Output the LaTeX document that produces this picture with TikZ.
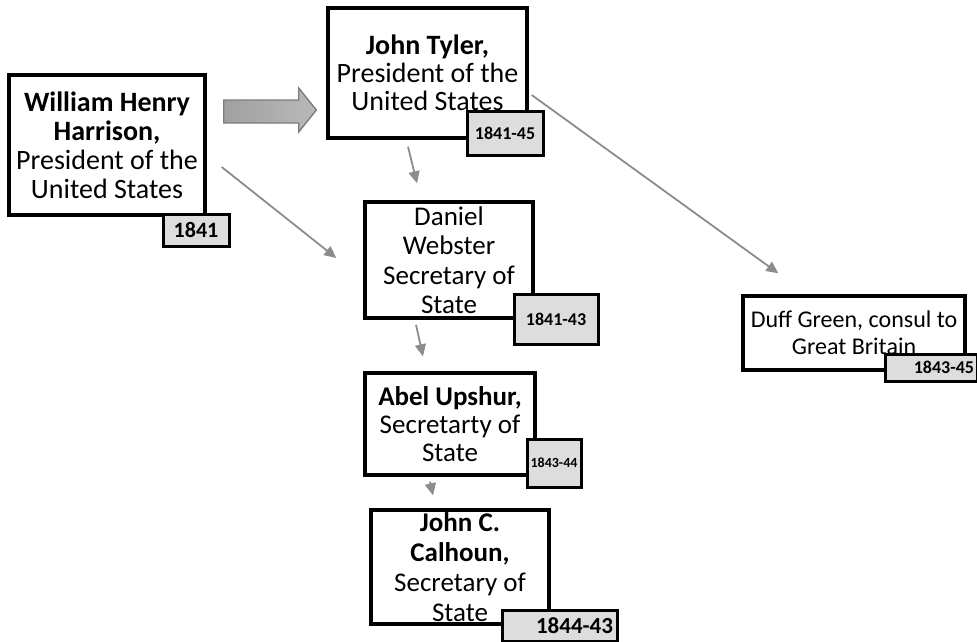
\documentclass[tikz,border=0pt]{standalone}
\usepackage{fontspec}
\setmainfont{Carlito}
\usetikzlibrary{arrows.meta,calc}
\definecolor{conn}{HTML}{8C8C8C}
\definecolor{badgefill}{HTML}{DDDDDD}
\tikzset{
  person/.style={draw=black, line width=3.4pt, fill=white, align=center, inner sep=1pt, font=\fontsize{28}{29}\selectfont},
  badge/.style={draw=black, line width=3pt, fill=badgefill, inner sep=1pt, font=\bfseries\fontsize{18}{20}\selectfont, anchor=center},
  conn/.style={draw=conn, line width=1.8pt, -{Triangle[length=12pt,width=11pt]}},
}
\begin{document}
\begin{tikzpicture}[x=1pt,y=-1pt]
\useasboundingbox (0,0) rectangle (977,642);
% boxes
\node[person, minimum width=196pt, minimum height=140pt] (whh) at (107,145)
  {\textbf{William Henry}\\\textbf{Harrison,}\\President of the\\United States};
\node[badge, minimum width=66pt, minimum height=32pt, font=\bfseries\fontsize{22}{24}\selectfont] (b1) at (196,230) {1841};

\node[person, minimum width=199pt, minimum height=130pt, font=\fontsize{28}{28}\selectfont] (tyl) at (427.5,73)
  {\textbf{John Tyler,}\\President of the\\United States};
\node[badge, minimum width=76pt, minimum height=44pt] (b2) at (505,133) {1841-45};

\node[person, minimum width=168pt, minimum height=116pt, font=\fontsize{27}{29.5}\selectfont] (web) at (449,260)
  {Daniel\\Webster\\Secretary of\\State};
\node[badge, minimum width=84pt, minimum height=50pt] (b3) at (556,319) {1841-43};

\node[person, minimum width=170pt, minimum height=102pt, font=\fontsize{27}{28}\selectfont] (ups) at (450,424)
  {\textbf{Abel Upshur,}\\Secretarty of\\State};
\node[badge, minimum width=54pt, minimum height=48pt, font=\bfseries\fontsize{14}{16}\selectfont] (b4) at (554,463) {1843-44};

\node[person, minimum width=178pt, minimum height=114pt, font=\fontsize{27}{30}\selectfont] (cal) at (460,567)
  {\textbf{John C.}\\\textbf{Calhoun,}\\Secretary of\\State};
\node[badge, minimum width=115pt, minimum height=31pt, font=\bfseries\fontsize{23}{24}\selectfont, align=right, text width=107pt] (b5) at (559.5,625.5) {1844-43};

\node[person, minimum width=222pt, minimum height=74pt, font=\fontsize{24}{27}\selectfont] (duff) at (854,333)
  {Duff Green, consul to\\Great Britain};
\node[badge, minimum width=92pt, minimum height=27pt, align=right, text width=86pt] (b6) at (931,367.5) {1843-45};

% fat arrow from Harrison to Tyler
\draw[draw={rgb,255:red,125;green,125;blue,125}, line width=1.4pt,
  left color={rgb,255:red,160;green,160;blue,160}, right color={rgb,255:red,185;green,185;blue,185}]
  ($(whh.east)+(17,-45)$) -- ++(75,0) -- ++(0,-12) -- ($(tyl.west)+(-10,37)$) -- ($(whh.east)+(92,-13)$)
  -- ++(0,-9) -- ++(-75,0) -- cycle;

% connectors
\draw[conn] ($(whh.east)+(15,22)$) -- ($(web.west)+(-27,-2)$);
\draw[conn] ($(tyl.east)+(3,22)$) -- ($(duff.north west)+(37,-21)$);
\draw[conn] ($(tyl.south)+(-19.5,7)$) -- ($(web.north)+(-32,-17)$);
\draw[conn] ($(web.south)+(-33,5)$) -- ($(ups.north)+(-27,-15)$);
\draw[conn] ($(ups.south)+(-20,5)$) -- ($(cal.north)+(-27,-13)$);
\end{tikzpicture}
\end{document}
